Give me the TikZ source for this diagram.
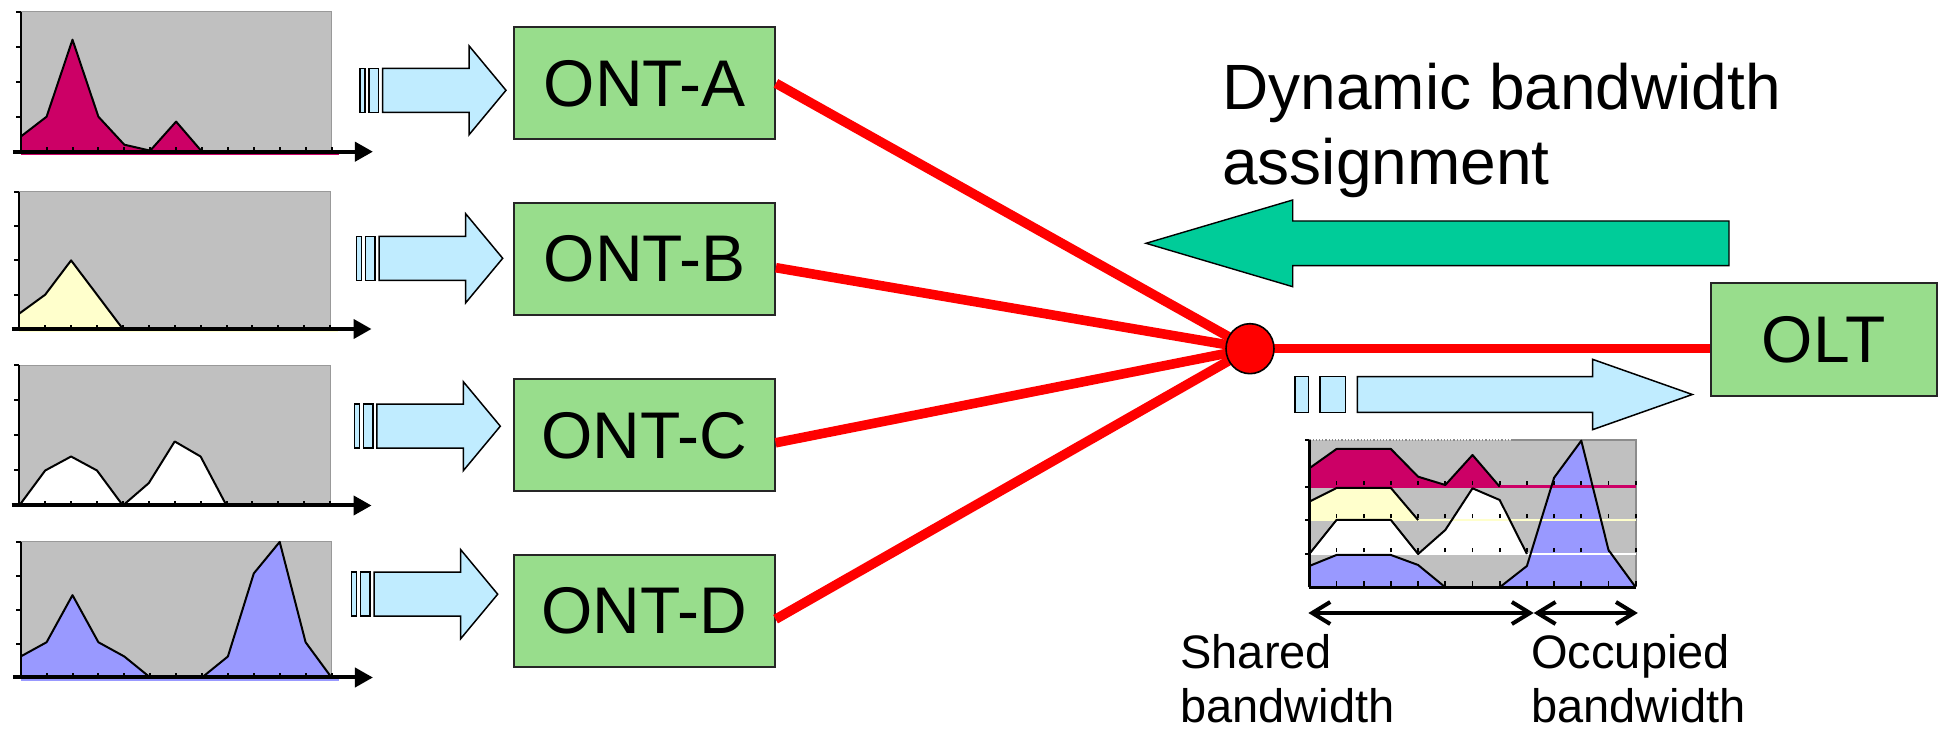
\documentclass[tikz,border=0pt]{standalone}
\usepackage{fontspec}
\setmainfont{Liberation Sans}
\usetikzlibrary{arrows.meta,calc,shapes.geometric}

\definecolor{ontgreen}{RGB}{152,221,140}
\definecolor{sigblue}{RGB}{192,236,255}
\definecolor{dbagreen}{RGB}{0,204,153}
\definecolor{plotgray}{RGB}{192,192,192}
\definecolor{trafA}{RGB}{204,0,102}
\definecolor{trafB}{RGB}{255,255,204}
\definecolor{trafC}{RGB}{255,255,255}
\definecolor{trafD}{RGB}{153,153,255}
\definecolor{fiberred}{RGB}{255,0,0}

% upstream traffic profile of one ONT: left x, baseline y, unit height, colour, samples
\newcommand\trafficchart[5]{%
  \begin{scope}[shift={(#1,#2)}, xscale=25.9, yscale=-#3]
    \fill[plotgray] (0,0) rectangle (12,4);
    \draw[black!40, line width=0.6pt] (0,4) -- (12,4) -- (12,0);
    \fill[#4] (0,0) -- plot coordinates {#5} -- (12,0) -- cycle;
    \draw[#4, line width=1.4pt] (0,-0.06) -- (12.3,-0.06);
    \draw[trafficline] plot coordinates {#5};
    \foreach \i in {1,...,12} \draw[line width=1pt] (\i,0) -- ++(0,0.12);
    \foreach \j in {1,...,4} \draw[line width=1pt] (0,\j) -- ++(-0.2,0);
    \draw[line width=1pt] (0,0) -- (0,4);
    \draw[timeaxis] (-0.3,0) -- (13.6,0);
  \end{scope}}

% burst of upstream frames: start x, centre y
\newcommand\burstarrow[2]{%
  \begin{scope}[shift={(#1,#2)}]
    \draw[sigarrow] (0,-22) rectangle (5,22);
    \draw[sigarrow] (9,-22) rectangle (18.5,22);
    \draw[sigarrow] (22.5,-22) -- (109,-22) -- (109,-44.5) -- (146,0)
      -- (109,44.5) -- (109,22) -- (22.5,22) -- cycle;
  \end{scope}}

\begin{document}
\begin{tikzpicture}[x=0.5pt, y=-0.5pt,
  unitbox/.style={draw=black!85, line width=0.9pt, fill=ontgreen,
    minimum width=130.5pt, minimum height=56pt, inner sep=0pt,
    font=\fontsize{33}{39}\selectfont},
  fiber/.style={draw=fiberred, line width=4.8pt},
  splitter/.style={ellipse, draw=black, line width=0.8pt, fill=fiberred,
    minimum width=24pt, minimum height=25pt, inner sep=0pt},
  sigarrow/.style={draw=black, line width=0.75pt, fill=sigblue, line join=miter},
  dbaarrow/.style={draw=black, line width=0.7pt, fill=dbagreen, line join=miter},
  trafficline/.style={draw=black, line width=1pt, line join=round},
  timeaxis/.style={line width=2pt, -{Triangle[length=9pt,width=9.5pt]}},
  spanarrow/.style={line width=2pt,
    {Straight Barb[length=9pt,width=11pt]}-{Straight Barb[length=9pt,width=11pt]}},
  labeltext/.style={font=\fontsize{23.5}{27}\selectfont, anchor=base west, inner sep=0pt},
  titletext/.style={font=\fontsize{32}{37}\selectfont, anchor=base west, inner sep=0pt}]

\useasboundingbox (0,0) rectangle (1945,731);
\fill[white] (0,0) rectangle (1945,731);

% ---- traffic profiles of the four ONTs ----
\trafficchart{20.7}{151.7}{35}{trafA}{(0,0.43) (1,1) (2,3.2) (3,1) (4,0.2) (5,0.03) (6,0.86) (7,0) (8,0) (9,0) (10,0) (11,0) (12,0)}
\trafficchart{19.3}{329}{34.3}{trafB}{(0,0.45) (1,1) (2,2) (3,1) (4,0) (5,0) (6,0) (7,0) (8,0) (9,0) (10,0) (11,0) (12,0)}
\trafficchart{19.3}{505.5}{35}{trafC}{(0,0) (1,1) (2,1.4) (3,1) (4,0) (5,0.64) (6,1.83) (7,1.4) (8,0) (9,0) (10,0) (11,0) (12,0)}
\trafficchart{20.7}{677.5}{33.9}{trafD}{(0,0.62) (1,1.04) (2,2.43) (3,1.04) (4,0.62) (5,0) (6,0) (7,0) (8,0.62) (9,3.07) (10,4) (11,1.04) (12,0)}

% ---- upstream bursts into the ONTs ----
\burstarrow{360}{90.3}
\burstarrow{356.7}{258.3}
\burstarrow{354.3}{426.2}
\burstarrow{351.7}{594.2}

% ---- optical network terminals ----
\node[unitbox] (ontA) at (644.5,83.3) {ONT-A};
\node[unitbox] (ontB) at (644.5,258.7) {ONT-B};
\node[unitbox] (ontC) at (644.2,435.3) {ONT-C};
\node[unitbox] (ontD) at (644.2,611.2) {ONT-D};
\node[unitbox, minimum width=113pt, minimum height=56.2pt] (olt) at (1823.7,339.5) {OLT};

% ---- fibre tree and splitter ----
\coordinate (hub) at (1250,348.7);
\draw[fiber] (ontA.east) -- (hub);
\draw[fiber] ($(ontB.east)+(0,9)$) -- (hub);
\draw[fiber] ($(ontC.east)+(0,7.5)$) -- (hub);
\draw[fiber] ($(ontD.east)+(0,8)$) -- (hub);
\draw[fiber] (hub) -- (hub -| olt.west);
\node[splitter] (split) at (hub) {};

% ---- dynamic bandwidth assignment (downstream grant) ----
\node[titletext] (dba1) at (1222,110) {Dynamic bandwidth};
\node[titletext] (dba2) at (1222,185) {assignment};
\draw[dbaarrow] (1146,243.3) -- (1292.7,200) -- (1292.7,221) -- (1729,221)
  -- (1729,265.7) -- (1292.7,265.7) -- (1292.7,286.7) -- cycle;

% ---- aggregated upstream burst towards the OLT ----
\draw[sigarrow] (1295,376.7) rectangle (1308.3,412.3);
\draw[sigarrow] (1320,376.7) rectangle (1345.7,412.3);
\draw[sigarrow] (1357.3,376.7) -- (1592.5,376.7) -- (1592.5,359.3) -- (1692.3,394.5)
  -- (1592.5,429.7) -- (1592.5,412.3) -- (1357.3,412.3) -- cycle;

% ---- stacked profile of the shared upstream channel ----
\begin{scope}[shift={(1309.3,587.3)}, xscale=27.2, yscale=-1]
  \fill[plotgray] (0,0) rectangle (12,147.3);
  \draw[black!45, line width=0.8pt] (7.4,147.3) -- (12,147.3) -- (12,0);
  \draw[black!45, line width=0.6pt, densely dotted] (0,147.3) -- (7.4,147.3);
  % areas, bottom band first
  \fill[trafD] (0,0) -- plot coordinates {(0,21.3) (1,32.3) (2,32.3) (3,32.3) (4,22.3) (5,0) (6,0) (7,0) (8,21.3) (9,109.6) (10,146.6) (11,37.3) (12,0)} -- cycle;
  \fill[trafC] (0,33.3) -- plot coordinates {(0,33.3) (1,67.3) (2,67.3) (3,67.3) (4,33.3) (5,57.3) (6,99) (7,87.3) (8,33.3)} -- cycle;
  \fill[trafB] (0,67.3) -- plot coordinates {(0,85.6) (1,99.3) (2,99.3) (3,99.3) (4,67.3)} -- cycle;
  \fill[trafA] (0,100.6) -- plot coordinates {(0,119) (1,138.3) (2,138.3) (3,138.3) (4,110.6) (5,102.3) (6,132.3) (7,100.6)} -- cycle;
  % band baselines
  \draw[trafC, line width=1.4pt] (0,33.3) -- (12,33.3);
  \draw[trafB, line width=1.4pt] (0,67.3) -- (12,67.3);
  \draw[trafA, line width=1.6pt] (0,100.6) -- (12,100.6);
  % outlines
  \draw[trafficline] plot coordinates {(0,21.3) (1,32.3) (2,32.3) (3,32.3) (4,22.3) (5,0) (6,0) (7,0) (8,21.3) (9,109.6) (10,146.6) (11,37.3) (12,0)};
  \draw[trafficline] plot coordinates {(0,33.3) (1,67.3) (2,67.3) (3,67.3) (4,33.3) (5,57.3) (6,99) (7,87.3) (8,33.3)};
  \draw[trafficline] plot coordinates {(0,85.6) (1,99.3) (2,99.3) (3,99.3) (4,67.3)};
  \draw[trafficline] plot coordinates {(0,119) (1,138.3) (2,138.3) (3,138.3) (4,110.6) (5,102.3) (6,132.3) (7,100.6)};
  % ticks and axes
  \foreach \h in {0,33.3,67.3,100.6}
    \foreach \i in {1,...,12}
      \draw[line width=0.9pt] (\i,{\h+1.5}) -- ++(0,4.5);
  \foreach \h in {33.3,67.3,100.6,147.3}
    \draw[line width=0.9pt] (0,\h) -- ++(-0.15,0);
  \draw[line width=1.2pt] (0,0) -- (0,147.3);
  \draw[line width=1.5pt] (0,0) -- (12,0);
\end{scope}

% ---- shared / occupied spans ----
\coordinate (spanL) at (1308.4,613);
\coordinate (spanM) at (1533.7,613);
\coordinate (spanR) at (1637.8,613);
\draw[spanarrow] (spanL) -- (spanM);
\draw[spanarrow] (spanM) -- (spanR);
\node[labeltext] (sh1) at (1180,669) {Shared};
\node[labeltext] (sh2) at (1180,723) {bandwidth};
\node[labeltext] (oc1) at (1531,669) {Occupied};
\node[labeltext] (oc2) at (1531,723) {bandwidth};

\end{tikzpicture}
\end{document}
